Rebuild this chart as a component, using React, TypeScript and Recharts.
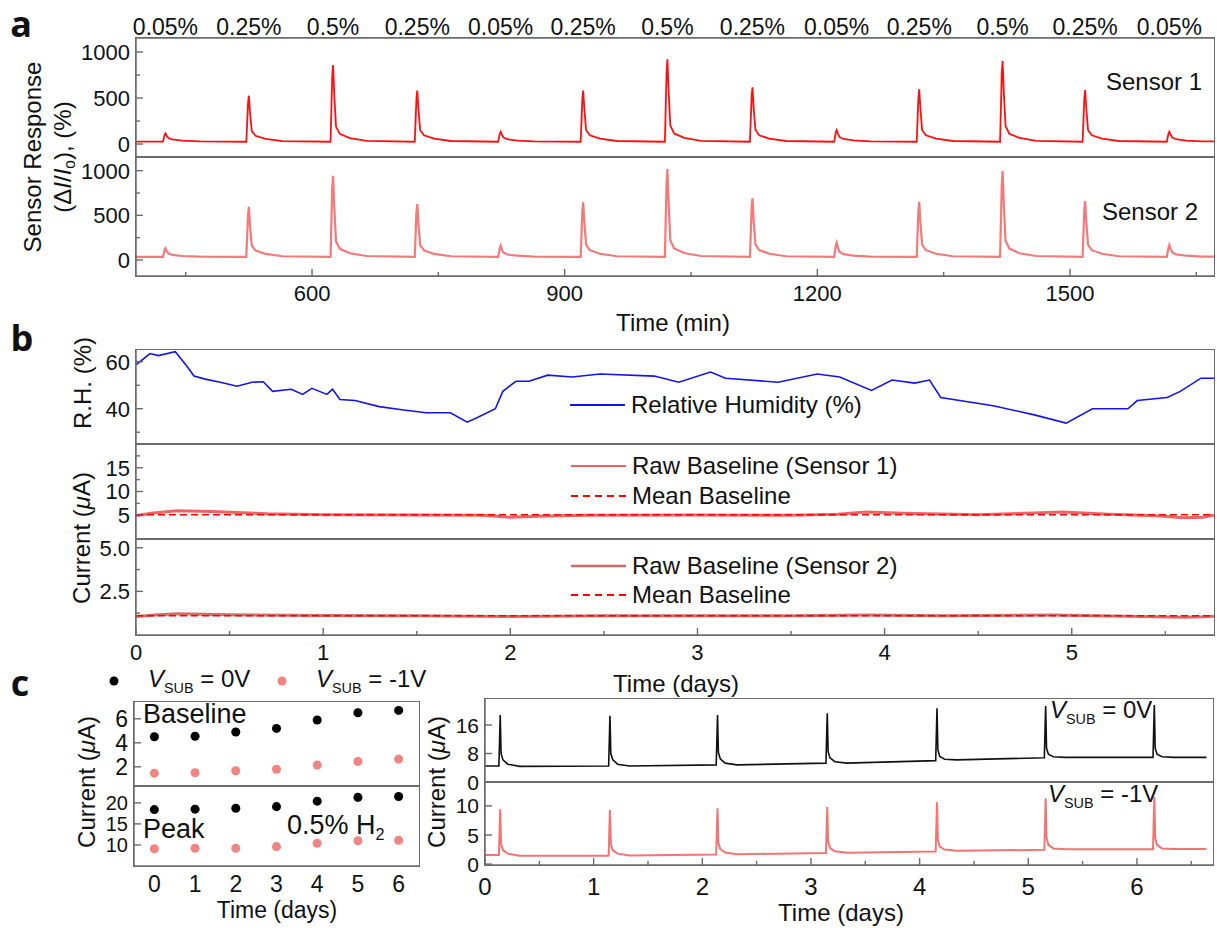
import React from "react";
import { ComposedChart, Line, Scatter, XAxis, YAxis, ReferenceLine } from "recharts";

const FONT = '"Liberation Sans", Arial, Helvetica, sans-serif';
const LETTER_FONT = '"Open Sans", "Liberation Sans", sans-serif';
const FRAME = "#6b6b6b";
const INK = "#111";
const AXIS = { stroke: FRAME, strokeWidth: 1.5 };

// ---------- panel a: response to H2 pulses (time in min)
const PULSE_TIMES = [426, 525, 625, 725, 824, 922, 1022, 1123, 1223, 1321, 1420, 1518, 1618];
const PULSE_LABELS = ["0.05%", "0.25%", "0.5%", "0.25%", "0.05%", "0.25%", "0.5%", "0.25%", "0.05%", "0.25%", "0.5%", "0.25%", "0.05%"];
// sample offsets (min) around every pulse peak
const PULSE_OFFSETS = [-3, -1, 0, 1.5, 3.5, 8, 20, 40];
const SENSOR1_PULSES = [
  [25, 100, 116, 90, 65, 50, 38, 28],
  [25, 440, 525, 330, 140, 90, 55, 32],
  [25, 730, 858, 520, 190, 110, 65, 35],
  [25, 490, 580, 360, 150, 95, 58, 33],
  [25, 115, 134, 100, 70, 52, 38, 28],
  [25, 490, 580, 360, 150, 95, 58, 33],
  [25, 780, 920, 560, 200, 115, 68, 35],
  [25, 520, 616, 380, 155, 95, 58, 33],
  [25, 130, 152, 110, 75, 55, 40, 28],
  [25, 500, 594, 370, 150, 95, 58, 33],
  [25, 770, 902, 550, 195, 112, 66, 35],
  [25, 495, 587, 365, 150, 95, 58, 33],
  [25, 115, 134, 100, 70, 52, 38, 28],
];
const SENSOR2_PULSES = [
  [35, 110, 130, 100, 75, 58, 45, 38],
  [35, 500, 596, 370, 160, 105, 68, 42],
  [35, 800, 943, 580, 210, 125, 75, 45],
  [35, 530, 626, 390, 165, 108, 68, 42],
  [35, 135, 160, 115, 82, 62, 48, 38],
  [35, 545, 645, 400, 170, 110, 70, 42],
  [35, 860, 1018, 620, 220, 130, 78, 45],
  [35, 585, 690, 430, 175, 112, 70, 42],
  [35, 165, 195, 135, 90, 66, 50, 38],
  [35, 550, 652, 405, 170, 110, 70, 42],
  [35, 845, 996, 610, 215, 128, 76, 45],
  [35, 560, 660, 410, 170, 110, 70, 42],
  [35, 140, 168, 120, 85, 63, 48, 38],
];
const A_RANGE: [number, number] = [391, 1671];

// ---------- panel b: humidity and baselines (time in days)
const RH_T = [0, 0.075, 0.12, 0.21, 0.27, 0.31, 0.37, 0.45, 0.54, 0.62, 0.68, 0.73, 0.83, 0.89, 0.94, 1.02, 1.05, 1.09, 1.17, 1.3, 1.42, 1.55, 1.68, 1.77, 1.83, 1.92, 1.96, 2.03, 2.1, 2.2, 2.33, 2.48, 2.77, 2.9, 3.07, 3.15, 3.43, 3.64, 3.76, 3.93, 4.04, 4.16, 4.24, 4.3, 4.58, 4.8, 4.97, 5.11, 5.3, 5.35, 5.51, 5.58, 5.69, 5.76];
const RH_V = [58.7, 63.5, 62.6, 64.3, 58.3, 53.9, 52.6, 51.3, 49.6, 51.3, 51.5, 47.4, 48.3, 46.1, 48.7, 46.1, 48.3, 43.9, 43.5, 40.9, 39.6, 38.3, 38.3, 34.3, 36.5, 40, 47.4, 51.7, 51.7, 54.3, 53.5, 54.8, 53.9, 51.3, 55.6, 53, 51.3, 54.8, 53.5, 47.8, 52.2, 50.9, 52.2, 44.8, 41.3, 37.4, 33.9, 40, 40, 43.5, 44.8, 47.4, 53, 53];
const S1_RAW_T = [0, 0.08, 0.22, 0.4, 0.7, 1.0, 1.5, 1.85, 2.0, 2.15, 2.4, 3.0, 3.5, 3.75, 3.9, 4.1, 4.5, 4.8, 4.95, 5.2, 5.45, 5.6, 5.7, 5.76];
const S1_RAW_V = [4.9, 5.4, 5.95, 5.8, 5.3, 5.1, 5.05, 5.0, 4.6, 4.8, 5.0, 5.05, 5.0, 5.2, 5.7, 5.4, 5.1, 5.5, 5.7, 5.2, 4.9, 4.5, 4.6, 5.0];
const S1_MEAN = 5.1;
const S2_RAW_T = [0, 0.1, 0.22, 0.5, 1.0, 1.5, 2.0, 2.5, 3.0, 3.5, 3.9, 4.3, 4.9, 5.3, 5.6, 5.7, 5.76];
const S2_RAW_V = [1.06, 1.14, 1.22, 1.16, 1.12, 1.1, 1.06, 1.1, 1.11, 1.1, 1.14, 1.1, 1.14, 1.08, 1.02, 1.04, 1.08];
const S2_MEAN = 1.1;
const B_RANGE: [number, number] = [0, 5.76];

// ---------- panel c: daily 0.5% H2 pulses at two substrate biases
const DAYS = [0, 1, 2, 3, 4, 5, 6];
const BASE_0V = [4.5, 4.55, 4.9, 5.2, 5.9, 6.5, 6.7];
const BASE_1V = [1.47, 1.5, 1.67, 1.8, 2.14, 2.44, 2.64];
const PEAK_0V = [18.4, 18.5, 18.7, 19.1, 20.4, 21.3, 21.5];
const PEAK_1V = [9.1, 9.2, 9.2, 9.6, 10.4, 11.0, 11.1];
const DAY_PULSES = [0.14, 1.15, 2.14, 3.15, 4.16, 5.16, 6.16];
const DAY_OFFSETS = [-0.012, -0.004, 0, 0.008, 0.025, 0.07, 0.18];
const TRACE_0V = [
  [4.5, 14, 18.8, 8, 6.2, 5.0, 4.4],
  [4.5, 14, 18.6, 8, 6.3, 5.0, 4.5],
  [4.8, 14, 18.8, 8.3, 6.5, 5.3, 4.8],
  [5.3, 15, 19.3, 8.5, 6.8, 5.7, 5.3],
  [6.0, 16, 20.7, 9, 7.2, 6.4, 6.2],
  [6.8, 17, 21.3, 9.5, 7.8, 7.1, 6.9],
  [6.9, 17, 21.6, 9.5, 7.8, 7.1, 6.9],
];
const TRACE_1V = [
  [1.55, 7, 9.4, 3.5, 2.4, 1.8, 1.45],
  [1.45, 7, 9.3, 3.5, 2.4, 1.8, 1.5],
  [1.65, 7.3, 9.6, 3.7, 2.6, 2.0, 1.7],
  [1.9, 7.5, 9.8, 3.9, 2.8, 2.2, 1.95],
  [2.15, 8, 10.6, 4.2, 3.0, 2.5, 2.3],
  [2.45, 8.5, 11.3, 4.5, 3.3, 2.7, 2.55],
  [2.55, 8.6, 11.5, 4.5, 3.3, 2.7, 2.6],
];
const C_RANGE: [number, number] = [0, 6.7];
const C_END = 6.64;

type Pt = { t: number; v: number };

function pulseTrace(times: number[], offsets: number[], rows: number[][], start: number, end: number): Pt[] {
  const out: Pt[] = [{ t: start, v: rows[0][0] }];
  times.forEach((t0, i) => offsets.forEach((dt, j) => out.push({ t: t0 + dt, v: rows[i][j] })));
  out.push({ t: end, v: rows[rows.length - 1][offsets.length - 1] });
  return out;
}
const zipPts = (t: number[], v: number[]): Pt[] => t.map((x, i) => ({ t: x, v: v[i] }));

const sensor1 = pulseTrace(PULSE_TIMES, PULSE_OFFSETS, SENSOR1_PULSES, A_RANGE[0], A_RANGE[1]);
const sensor2 = pulseTrace(PULSE_TIMES, PULSE_OFFSETS, SENSOR2_PULSES, A_RANGE[0], A_RANGE[1]);
const rh = zipPts(RH_T, RH_V);
const s1raw = zipPts(S1_RAW_T, S1_RAW_V);
const s2raw = zipPts(S2_RAW_T, S2_RAW_V);
const trace0 = pulseTrace(DAY_PULSES, DAY_OFFSETS, TRACE_0V, 0, C_END);
const trace1 = pulseTrace(DAY_PULSES, DAY_OFFSETS, TRACE_1V, 0, C_END);

const YW = 80;
const PAD = 14;

function YTick(props: any) {
  const { x, y, payload, major, fs, fmt } = props;
  const isMajor = major.includes(payload.value);
  return (
    <g>
      <rect x={x} y={y - 0.7} width={isMajor ? 7 : 4} height={1.4} fill={FRAME} />
      {isMajor && (
        <text x={x - 6} y={y} dy="0.36em" textAnchor="end" fontSize={fs} fontFamily={FONT} fill={INK}>
          {fmt(payload.value)}
        </text>
      )}
    </g>
  );
}

function XTick(props: any) {
  const { x, y, payload, major, len, labels, fs, dy } = props;
  const isMajor = major.includes(payload.value);
  const l = isMajor ? len[0] : len[1];
  return (
    <g>
      {l > 0 && <rect x={x - 0.7} y={y - l} width={1.4} height={l} fill={FRAME} />}
      {labels && isMajor && (
        <text x={x} y={y + dy} textAnchor="middle" fontSize={fs} fontFamily={FONT} fill={INK}>
          {String(payload.value)}
        </text>
      )}
    </g>
  );
}

function TopTick(props: any) {
  const { x, y, payload, fmt } = props;
  return (
    <text x={x} y={y - 3} textAnchor="middle" fontSize={23} fontFamily={FONT} fill={INK}>
      {fmt(payload.value)}
    </text>
  );
}

type PlotProps = {
  left: number;
  top: number;
  width: number;
  height: number;
  xDomain: [number, number];
  yDomain: [number, number];
  xTicks?: number[];
  xMajor?: number[];
  xLabels?: boolean;
  xTickLen?: [number, number];
  xDy?: number;
  xFs?: number;
  yTicks: number[];
  yMajor: number[];
  yFmt?: (v: number) => string;
  topTicks?: number[];
  topFmt?: (v: number) => string;
  fs?: number;
  children?: React.ReactNode;
};

function Plot(p: PlotProps) {
  const fs = p.fs ?? 22;
  const xFs = p.xFs ?? fs;
  const topH = p.topTicks ? 40 : 0;
  const botH = p.xLabels ? 40 : 0;
  const xMajor = p.xMajor ?? [];
  const xLen = p.xTickLen ?? [7, 4];
  const yFmt = p.yFmt ?? ((v: number) => String(v));
  return (
    <>
      <div style={{ position: "absolute", left: p.left - YW, top: p.top - topH - PAD }}>
        <ComposedChart
          width={YW + p.width + PAD}
          height={PAD + topH + p.height + botH + PAD}
          margin={{ top: PAD, right: PAD, bottom: PAD, left: 0 }}
        >
          <XAxis
            type="number"
            dataKey="t"
            domain={p.xDomain}
            allowDataOverflow
            height={botH}
            ticks={p.xTicks}
            interval={0}
            tickLine={false}
            tickSize={0}
            tickMargin={0}
            axisLine={AXIS}
            tick={
              p.xTicks
                ? (tp: any) => <XTick {...tp} major={xMajor} len={xLen} labels={!!p.xLabels} fs={xFs} dy={p.xDy ?? 25} />
                : false
            }
          />
          <XAxis
            xAxisId="top"
            orientation="top"
            type="number"
            dataKey="t"
            domain={p.xDomain}
            allowDataOverflow
            height={topH}
            ticks={p.topTicks}
            interval={0}
            tickLine={false}
            tickSize={0}
            tickMargin={0}
            axisLine={AXIS}
            tick={p.topTicks ? (tp: any) => <TopTick {...tp} fmt={p.topFmt} /> : false}
          />
          <YAxis
            type="number"
            dataKey="v"
            domain={p.yDomain}
            allowDataOverflow
            width={YW}
            ticks={p.yTicks}
            interval={0}
            tickLine={false}
            tickSize={0}
            tickMargin={0}
            axisLine={AXIS}
            tick={(tp: any) => <YTick {...tp} major={p.yMajor} fs={fs} fmt={yFmt} />}
          />
          <YAxis yAxisId="right" orientation="right" type="number" domain={p.yDomain} width={0} tick={false} tickLine={false} axisLine={AXIS} />
          {p.children}
        </ComposedChart>
      </div>
      {/* plot frame */}
      <div
        style={{
          position: "absolute",
          left: p.left - 0.75,
          top: p.top - 0.75,
          width: p.width + 1.5,
          height: p.height + 1.5,
          boxSizing: "border-box",
          border: `1.5px solid ${FRAME}`,
          pointerEvents: "none",
        }}
      />
    </>
  );
}

function Txt(props: {
  x: number;
  y: number;
  size?: number;
  rotate?: boolean;
  anchor?: "start" | "middle";
  weight?: number;
  family?: string;
  lh?: number;
  children: React.ReactNode;
}) {
  const { x, y, size = 24, rotate = false, anchor = "middle", weight = 400, family = FONT, lh = 1.15 } = props;
  const tx = anchor === "middle" ? "-50%" : "0";
  return (
    <div
      style={{
        position: "absolute",
        left: x,
        top: y,
        transform: `translate(${tx}, -50%)${rotate ? " rotate(-90deg)" : ""}`,
        fontSize: size,
        fontFamily: family,
        fontWeight: weight,
        whiteSpace: "nowrap",
        lineHeight: lh,
        color: INK,
      }}
    >
      {props.children}
    </div>
  );
}

function LegendRow({ x, y, color, dash, label, lw = 2 }: { x: number; y: number; color: string; dash?: string; label: string; lw?: number }) {
  return (
    <div style={{ position: "absolute", left: x, top: y, transform: "translateY(-50%)", display: "flex", alignItems: "center" }}>
      <svg width={55} height={10}>
        <line x1={0} x2={55} y1={5} y2={5} stroke={color} strokeWidth={lw} strokeDasharray={dash} />
      </svg>
      <span style={{ marginLeft: 6, fontSize: 24, fontFamily: FONT, color: INK, lineHeight: 1 }}>{label}</span>
    </div>
  );
}

const Vsub = ({ v }: { v: string }) => (
  <span>
    <i>V</i>
    <span style={{ fontSize: "0.6em", verticalAlign: "-0.4em" }}>SUB</span> = {v}
  </span>
);

const uA = (
  <span>
    Current (<i>μ</i>A)
  </span>
);

export default function App() {
  return (
    <div style={{ position: "absolute", left: 0, top: 0, width: 1217, height: 928, background: "#fff", overflow: "hidden", fontFamily: FONT }}>
      {/* panel letters */}
      <Txt x={21} y={24} size={36} lh={0.9} weight={700} family={LETTER_FONT}>a</Txt>
      <Txt x={22} y={338} size={36} lh={0.9} weight={700} family={LETTER_FONT}>b</Txt>
      <Txt x={20} y={683} size={36} lh={0.9} weight={700} family={LETTER_FONT}>c</Txt>

      {/* ---- a ---- */}
      <Plot
        left={136}
        top={38}
        width={1078}
        height={119}
        xDomain={A_RANGE}
        yDomain={[-141, 1152]}
        xTicks={[500, 625, 750, 875, 1000, 1125, 1250, 1375, 1500, 1625]}
        xTickLen={[5, 5]}
        yTicks={[0, 250, 500, 750, 1000]}
        yMajor={[0, 500, 1000]}
        topTicks={PULSE_TIMES}
        topFmt={(v) => PULSE_LABELS[PULSE_TIMES.indexOf(v)]}
      >
        <Line data={sensor1} dataKey="v" stroke="#ff1010" strokeWidth={1.8} dot={false} isAnimationActive={false} />
      </Plot>
      <Plot
        left={136}
        top={157}
        width={1078}
        height={119}
        xDomain={A_RANGE}
        yDomain={[-179, 1153]}
        xTicks={[450, 600, 750, 900, 1050, 1200, 1350, 1500, 1650]}
        xMajor={[600, 900, 1200, 1500]}
        xLabels
        yTicks={[0, 250, 500, 750, 1000]}
        yMajor={[0, 500, 1000]}
      >
        <Line data={sensor2} dataKey="v" stroke="#f47a7a" strokeWidth={2.2} dot={false} isAnimationActive={false} />
      </Plot>
      <Txt x={1106} y={82} anchor="start">Sensor 1</Txt>
      <Txt x={1102} y={212} anchor="start">Sensor 2</Txt>
      <Txt x={673} y={323}>Time (min)</Txt>
      <Txt x={33} y={157} rotate>Sensor Response</Txt>
      <Txt x={64} y={157} rotate>
        (Δ<i>I</i>/<i>I</i>
        <span style={{ fontSize: "0.65em", verticalAlign: "-0.3em" }}>o</span>), (%)
      </Txt>

      {/* ---- b ---- */}
      <Plot
        left={136}
        top={350}
        width={1078}
        height={94}
        xDomain={B_RANGE}
        yDomain={[25, 65]}
        yTicks={[30, 40, 50, 60]}
        yMajor={[40, 60]}
      >
        <Line data={rh} dataKey="v" stroke="#1414e6" strokeWidth={1.6} dot={false} isAnimationActive={false} />
      </Plot>
      <Plot
        left={136}
        top={444}
        width={1078}
        height={95}
        xDomain={B_RANGE}
        yDomain={[0, 20]}
        yTicks={[5, 7.5, 10, 12.5, 15, 17.5]}
        yMajor={[5, 10, 15]}
      >
        <Line data={s1raw} dataKey="v" stroke="#ee6464" strokeWidth={3} dot={false} isAnimationActive={false} />
        <ReferenceLine y={S1_MEAN} stroke="#ff0000" strokeWidth={1.6} strokeDasharray="7 4" />
      </Plot>
      <Plot
        left={136}
        top={539}
        width={1078}
        height={96}
        xDomain={B_RANGE}
        yDomain={[0, 5.5]}
        xTicks={[0, 0.5, 1, 1.5, 2, 2.5, 3, 3.5, 4, 4.5, 5, 5.5]}
        xMajor={[0, 1, 2, 3, 4, 5]}
        xLabels
        yTicks={[1.25, 2.5, 3.75, 5]}
        yMajor={[2.5, 5]}
        yFmt={(v) => v.toFixed(1)}
      >
        <Line data={s2raw} dataKey="v" stroke="#d86a6a" strokeWidth={3} dot={false} isAnimationActive={false} />
        <ReferenceLine y={S2_MEAN} stroke="#ff0000" strokeWidth={1.6} strokeDasharray="7 4" />
      </Plot>
      <LegendRow x={570} y={405} color="#1414e6" label="Relative Humidity (%)" />
      <LegendRow x={571} y={466} color="#e46464" label="Raw Baseline (Sensor 1)" />
      <LegendRow x={571} y={496} color="#ff0000" dash="7 5" label="Mean Baseline" />
      <LegendRow x={571} y={566} color="#d06a6a" label="Raw Baseline (Sensor 2)" lw={2.5} />
      <LegendRow x={571} y={595} color="#ff0000" dash="7 5" label="Mean Baseline" />
      <Txt x={83} y={383} rotate>R.H. (%)</Txt>
      <Txt x={82} y={538} rotate>{uA}</Txt>
      <Txt x={676} y={684}>Time (days)</Txt>

      {/* ---- c legend ---- */}
      <svg style={{ position: "absolute", left: 0, top: 670 }} width={300} height={24}>
        <circle cx={114} cy={11} r={4.5} fill="#000" />
        <circle cx={282} cy={11} r={4.5} fill="#f28484" />
      </svg>
      <Txt x={148} y={681} anchor="start"><Vsub v="0V" /></Txt>
      <Txt x={316} y={681} anchor="start"><Vsub v="-1V" /></Txt>

      {/* ---- c left: baseline / peak summary ---- */}
      <Plot
        left={134}
        top={702}
        width={285}
        height={84}
        xDomain={[-0.5, 6.5]}
        yDomain={[0.4, 7.4]}
        yTicks={[2, 4, 6]}
        yMajor={[2, 4, 6]}
        fs={23}
      >
        <Scatter data={zipPts(DAYS, BASE_0V)} dataKey="v" fill="#000" isAnimationActive={false} />
        <Scatter data={zipPts(DAYS, BASE_1V)} dataKey="v" fill="#f28484" isAnimationActive={false} />
      </Plot>
      <Plot
        left={134}
        top={786}
        width={285}
        height={80}
        xDomain={[-0.5, 6.5]}
        yDomain={[5, 24]}
        xTicks={DAYS}
        xMajor={DAYS}
        xLabels
        xTickLen={[0, 0]}
        xDy={26}
        xFs={23}
        yTicks={[10, 15, 20]}
        yMajor={[10, 15, 20]}
        fs={20}
      >
        <Scatter data={zipPts(DAYS, PEAK_0V)} dataKey="v" fill="#000" isAnimationActive={false} />
        <Scatter data={zipPts(DAYS, PEAK_1V)} dataKey="v" fill="#f28484" isAnimationActive={false} />
      </Plot>
      <Txt x={143} y={715} size={27} anchor="start">Baseline</Txt>
      <Txt x={143} y={830} size={27} anchor="start">Peak</Txt>
      <Txt x={287} y={827} size={27} anchor="start">
        0.5% H<span style={{ fontSize: "0.6em", verticalAlign: "-0.4em" }}>2</span>
      </Txt>
      <Txt x={87} y={782} rotate size={24}>{uA}</Txt>
      <Txt x={277} y={910} size={23} lh={1}>Time (days)</Txt>

      {/* ---- c right: current traces ---- */}
      <Plot
        left={485}
        top={699}
        width={728}
        height={83}
        xDomain={C_RANGE}
        yDomain={[0, 23.3]}
        yTicks={[0, 8, 16]}
        yMajor={[0, 8, 16]}
        fs={21}
      >
        <Line data={trace0} dataKey="v" stroke="#111" strokeWidth={1.6} dot={false} isAnimationActive={false} />
      </Plot>
      <Plot
        left={485}
        top={782}
        width={728}
        height={83}
        xDomain={C_RANGE}
        yDomain={[-0.15, 14.1]}
        xTicks={[0, 0.5, 1, 1.5, 2, 2.5, 3, 3.5, 4, 4.5, 5, 5.5, 6, 6.5]}
        xMajor={DAYS}
        xLabels
        xDy={30}
        xFs={24}
        yTicks={[0, 5, 10]}
        yMajor={[0, 5, 10]}
        fs={21}
      >
        <Line data={trace1} dataKey="v" stroke="#f27474" strokeWidth={2} dot={false} isAnimationActive={false} />
      </Plot>
      <Txt x={1050} y={712} anchor="start"><Vsub v="0V" /></Txt>
      <Txt x={1048} y={796} anchor="start"><Vsub v="-1V" /></Txt>
      <Txt x={437} y={782} rotate size={24}>{uA}</Txt>
      <Txt x={841} y={913} size={24} lh={1}>Time (days)</Txt>
    </div>
  );
}
